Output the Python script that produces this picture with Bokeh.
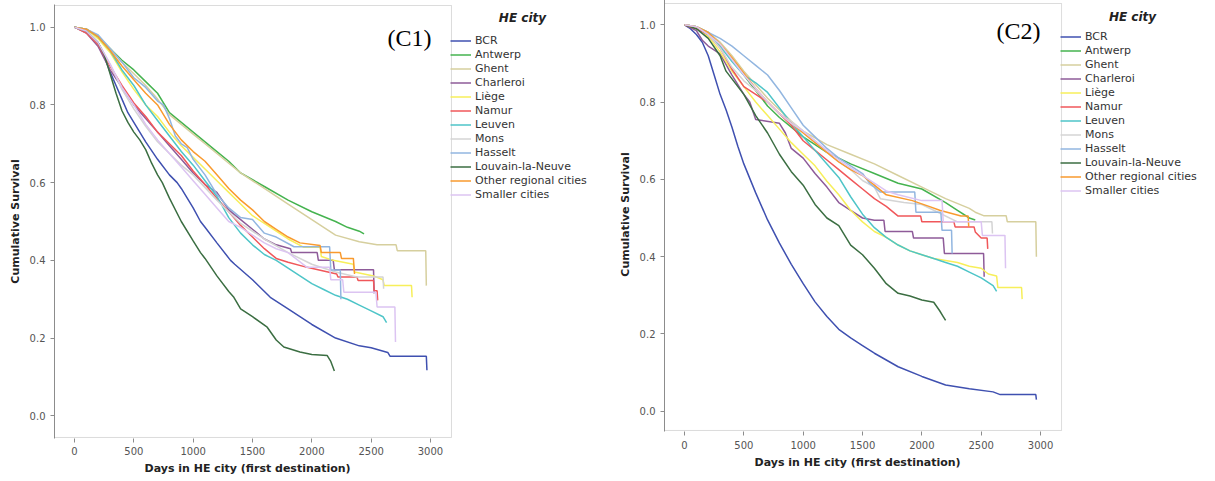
from bokeh.plotting import figure
from bokeh.models import (Legend, LegendItem, Label, FixedTicker, Title,
                          PrintfTickFormatter, Range1d, BoxAnnotation)
from bokeh.layouts import row
from bokeh.embed import file_html
from bokeh.resources import INLINE

cities = ["BCR", "Antwerp", "Ghent", "Charleroi", "Liège", "Namur", "Leuven",
          "Mons", "Hasselt", "Louvain-la-Neuve", "Other regional cities",
          "Smaller cities"]
colors = ["#3f50b0", "#45b34f", "#d6cf9e", "#8e5b99", "#f7ef5a", "#f0575a",
          "#4ec5c8", "#d4d4d4", "#92b6e0", "#3b6e42", "#f99a2e", "#dcc4f2"]
legend_title = "HE city"
x_label = "Days in HE city (first destination)"
y_label = "Cumulative Survival"

x_ticks = [0, 500, 1000, 1500, 2000, 2500, 3000]
y_ticks = [0.0, 0.2, 0.4, 0.6, 0.8, 1.0]

# ---------------- (C1) ----------------
c1_bcr_days = [0,100,200,250,300,350,400,450,500,600,700,800,865,900,1000,1062,1100,1200,1315,1350,1500,1650,1800,1900,2000,2200,2400,2500,2640,2660,2965,2970]
c1_bcr_surv = [1.0,0.99,0.96,0.925,0.885,0.85,0.815,0.78,0.755,0.705,0.66,0.62,0.60,0.585,0.535,0.50,0.485,0.445,0.40,0.39,0.35,0.305,0.275,0.255,0.235,0.20,0.18,0.175,0.163,0.153,0.153,0.117]
c1_ant_days = [0,100,200,300,400,500,600,700,800,900,1000,1100,1200,1300,1400,1600,1800,2000,2200,2300,2400,2440]
c1_ant_surv = [1.0,0.995,0.975,0.945,0.915,0.89,0.86,0.83,0.78,0.755,0.73,0.705,0.68,0.655,0.625,0.59,0.555,0.525,0.50,0.485,0.475,0.468]
c1_ghe_days = [0,100,200,300,400,500,600,700,800,900,1000,1100,1200,1300,1400,1600,1800,2000,2200,2400,2550,2710,2720,2960,2965]
c1_ghe_surv = [1.0,0.995,0.975,0.945,0.91,0.88,0.85,0.815,0.775,0.75,0.725,0.70,0.675,0.65,0.625,0.585,0.545,0.505,0.465,0.448,0.44,0.44,0.425,0.425,0.335]
c1_cha_days = [0,100,200,300,400,500,600,700,800,900,1000,1100,1200,1300,1400,1500,1600,1700,1820,1830,2045,2055,2180,2190,2520,2525]
c1_cha_surv = [1.0,0.985,0.95,0.89,0.845,0.80,0.765,0.73,0.695,0.66,0.625,0.595,0.575,0.53,0.505,0.48,0.455,0.44,0.43,0.42,0.42,0.40,0.40,0.376,0.376,0.315]
c1_lie_days = [0,100,200,300,400,500,600,700,800,900,1000,1100,1200,1300,1400,1500,1600,1700,1800,1930,2070,2080,2180,2350,2360,2520,2600,2610,2840,2845]
c1_lie_surv = [1.0,0.995,0.97,0.935,0.885,0.84,0.80,0.77,0.73,0.695,0.665,0.635,0.605,0.575,0.545,0.515,0.495,0.475,0.455,0.434,0.434,0.41,0.40,0.39,0.37,0.36,0.35,0.335,0.335,0.305]
c1_nam_days = [0,100,200,300,400,500,600,700,800,900,1000,1100,1200,1300,1400,1500,1600,1700,1800,1960,2210,2220,2380,2390,2520,2525,2550,2555]
c1_nam_surv = [1.0,0.985,0.955,0.90,0.85,0.805,0.77,0.73,0.70,0.67,0.63,0.595,0.56,0.525,0.49,0.46,0.43,0.405,0.395,0.382,0.365,0.357,0.357,0.348,0.348,0.322,0.322,0.297]
c1_leu_days = [0,100,200,300,400,500,600,700,800,900,1000,1100,1200,1300,1400,1500,1600,1700,1800,1900,2000,2100,2200,2300,2400,2500,2600,2630]
c1_leu_surv = [1.0,0.995,0.975,0.94,0.89,0.85,0.80,0.76,0.72,0.68,0.645,0.605,0.565,0.51,0.47,0.44,0.415,0.40,0.38,0.36,0.34,0.325,0.31,0.30,0.285,0.27,0.255,0.24]
c1_mon_days = [0,100,200,300,400,500,600,700,800,900,1000,1200,1400,1600,1800,2000,2200,2380,2600,2605]
c1_mon_surv = [1.0,0.99,0.96,0.905,0.84,0.79,0.745,0.705,0.675,0.645,0.62,0.555,0.495,0.455,0.42,0.39,0.37,0.357,0.357,0.327]
c1_has_days = [0,100,200,300,400,500,600,700,750,800,850,900,950,1000,1100,1200,1300,1400,1500,1600,1700,1850,2150,2160,2240,2245]
c1_has_surv = [1.0,0.995,0.98,0.945,0.91,0.87,0.845,0.81,0.80,0.765,0.72,0.70,0.69,0.66,0.62,0.57,0.535,0.51,0.505,0.47,0.46,0.435,0.435,0.375,0.375,0.30]
c1_lou_days = [0,100,200,250,300,350,400,450,500,550,600,650,700,740,800,900,1000,1062,1100,1200,1300,1343,1400,1500,1624,1700,1764,1900,2000,2130,2160,2190]
c1_lou_surv = [1.0,0.99,0.96,0.93,0.88,0.83,0.785,0.755,0.73,0.71,0.685,0.65,0.62,0.60,0.56,0.50,0.45,0.42,0.405,0.36,0.32,0.305,0.275,0.255,0.228,0.195,0.177,0.164,0.158,0.155,0.14,0.115]
c1_oth_days = [0,100,200,300,400,500,600,700,800,900,1000,1100,1200,1300,1400,1500,1600,1700,1800,1900,2070,2080,2240,2250,2350,2360]
c1_oth_surv = [1.0,0.995,0.975,0.94,0.90,0.865,0.83,0.80,0.75,0.71,0.68,0.655,0.62,0.585,0.555,0.53,0.50,0.48,0.46,0.445,0.438,0.42,0.42,0.405,0.405,0.365]
c1_sma_days = [0,100,200,300,400,500,600,700,800,900,1000,1100,1200,1300,1400,1500,1600,1700,1800,1960,2150,2160,2260,2270,2540,2550,2700,2705]
c1_sma_surv = [1.0,0.99,0.96,0.905,0.845,0.80,0.75,0.71,0.675,0.64,0.605,0.57,0.535,0.50,0.485,0.465,0.445,0.43,0.42,0.382,0.382,0.35,0.35,0.318,0.318,0.28,0.28,0.19]

# ---------------- (C2) ----------------
c2_bcr_days = [0,50,100,150,200,250,300,350,400,450,500,600,700,800,900,1000,1100,1200,1300,1400,1500,1600,1800,2000,2200,2400,2600,2660,2960,2965]
c2_bcr_surv = [1.0,0.99,0.975,0.955,0.92,0.87,0.82,0.78,0.735,0.685,0.64,0.565,0.495,0.435,0.38,0.33,0.283,0.245,0.212,0.19,0.17,0.15,0.115,0.09,0.068,0.058,0.05,0.043,0.043,0.03]
c2_ant_days = [0,100,200,300,400,500,600,700,800,900,1000,1200,1400,1600,1800,2000,2200,2300,2400,2450]
c2_ant_surv = [1.0,0.995,0.98,0.95,0.91,0.87,0.83,0.79,0.76,0.735,0.71,0.67,0.64,0.615,0.59,0.575,0.54,0.52,0.50,0.495]
c2_ghe_days = [0,100,200,300,400,500,600,700,800,900,1000,1200,1400,1600,1800,2000,2200,2400,2450,2520,2710,2720,2960,2965]
c2_ghe_surv = [1.0,0.995,0.98,0.955,0.92,0.88,0.845,0.81,0.78,0.75,0.725,0.69,0.665,0.64,0.61,0.58,0.55,0.525,0.515,0.506,0.506,0.49,0.49,0.40]
c2_cha_days = [0,100,150,200,300,400,500,550,600,800,850,900,1000,1100,1200,1300,1400,1500,1600,1680,1690,1920,1930,2180,2190,2520,2525]
c2_cha_surv = [1.0,0.985,0.96,0.945,0.925,0.87,0.82,0.80,0.755,0.745,0.72,0.68,0.655,0.615,0.58,0.54,0.52,0.50,0.494,0.494,0.465,0.465,0.448,0.448,0.408,0.408,0.348]
c2_lie_days = [0,100,200,300,400,500,600,700,800,900,1000,1100,1200,1300,1400,1500,1600,1700,1800,1900,2000,2100,2200,2300,2400,2500,2560,2630,2640,2840,2845]
c2_lie_surv = [1.0,0.995,0.97,0.93,0.88,0.84,0.80,0.765,0.73,0.695,0.665,0.635,0.595,0.56,0.52,0.49,0.465,0.45,0.43,0.415,0.405,0.395,0.39,0.385,0.375,0.37,0.355,0.35,0.32,0.32,0.29]
c2_nam_days = [0,100,200,300,400,500,600,700,800,900,1000,1100,1200,1300,1400,1500,1600,1700,1800,1990,2000,2270,2280,2440,2450,2500,2550,2555]
c2_nam_surv = [1.0,0.99,0.975,0.94,0.885,0.84,0.82,0.80,0.77,0.74,0.70,0.675,0.65,0.625,0.60,0.575,0.55,0.53,0.505,0.505,0.49,0.49,0.477,0.477,0.464,0.448,0.448,0.42]
c2_leu_days = [0,100,200,300,400,500,600,700,800,900,1000,1100,1200,1300,1400,1500,1600,1700,1800,1900,2000,2100,2200,2300,2400,2500,2600,2630]
c2_leu_surv = [1.0,0.995,0.975,0.945,0.905,0.87,0.85,0.825,0.785,0.745,0.71,0.675,0.64,0.605,0.555,0.51,0.475,0.45,0.43,0.415,0.405,0.395,0.385,0.375,0.36,0.345,0.325,0.31]
c2_mon_days = [0,100,200,300,400,500,600,700,800,900,1000,1100,1200,1300,1400,1500,1600,1650,1850,2000,2100,2300,2590,2595]
c2_mon_surv = [1.0,0.995,0.975,0.94,0.89,0.855,0.83,0.80,0.77,0.75,0.725,0.70,0.67,0.645,0.625,0.597,0.58,0.55,0.54,0.535,0.52,0.49,0.49,0.46]
c2_has_days = [0,100,200,300,400,500,600,700,800,900,1000,1100,1200,1300,1400,1500,1560,1650,1940,1950,2160,2170,2250,2255]
c2_has_surv = [1.0,0.995,0.98,0.965,0.945,0.92,0.895,0.87,0.83,0.785,0.74,0.71,0.68,0.655,0.635,0.615,0.59,0.567,0.567,0.515,0.515,0.468,0.468,0.408]
c2_lou_days = [0,100,200,300,350,400,500,600,700,800,900,1000,1100,1200,1300,1400,1500,1600,1700,1800,1900,2000,2100,2150,2180,2200]
c2_lou_surv = [1.0,0.99,0.965,0.92,0.88,0.86,0.82,0.765,0.72,0.665,0.62,0.585,0.535,0.50,0.48,0.43,0.405,0.37,0.33,0.305,0.298,0.288,0.282,0.26,0.245,0.235]
c2_oth_days = [0,100,200,300,400,500,600,700,800,900,1000,1100,1200,1300,1400,1500,1600,1700,1920,2060,2150,2330,2390,2395]
c2_oth_surv = [1.0,0.995,0.98,0.95,0.915,0.875,0.835,0.80,0.77,0.745,0.72,0.695,0.67,0.645,0.625,0.61,0.585,0.56,0.545,0.53,0.52,0.505,0.505,0.477]
c2_sma_days = [0,100,200,300,400,500,600,700,800,900,1000,1100,1200,1300,1400,1500,1600,1700,1800,2000,2170,2180,2500,2510,2700,2705]
c2_sma_surv = [1.0,0.995,0.975,0.95,0.91,0.87,0.835,0.80,0.77,0.745,0.725,0.70,0.675,0.65,0.63,0.61,0.59,0.57,0.56,0.545,0.545,0.49,0.49,0.455,0.455,0.37]

c1_series = [(c1_bcr_days, c1_bcr_surv), (c1_ant_days, c1_ant_surv), (c1_ghe_days, c1_ghe_surv),
             (c1_cha_days, c1_cha_surv), (c1_lie_days, c1_lie_surv), (c1_nam_days, c1_nam_surv),
             (c1_leu_days, c1_leu_surv), (c1_mon_days, c1_mon_surv), (c1_has_days, c1_has_surv),
             (c1_lou_days, c1_lou_surv), (c1_oth_days, c1_oth_surv), (c1_sma_days, c1_sma_surv)]
c2_series = [(c2_bcr_days, c2_bcr_surv), (c2_ant_days, c2_ant_surv), (c2_ghe_days, c2_ghe_surv),
             (c2_cha_days, c2_cha_surv), (c2_lie_days, c2_lie_surv), (c2_nam_days, c2_nam_surv),
             (c2_leu_days, c2_leu_surv), (c2_mon_days, c2_mon_surv), (c2_has_days, c2_has_surv),
             (c2_lou_days, c2_lou_surv), (c2_oth_days, c2_oth_surv), (c2_sma_days, c2_sma_surv)]

AX = "#8c8c8c"
FONT = "DejaVu Sans"
X_START, X_BOX_END = -168.5, 3177


def make_panel(series, tag, tag_x, tag_y, title_y, width, x_end, y_start, y_end,
               box_bottom, box_top, tick_standoff, title_standoff, leg_y):
    # both figures share the same frame geometry (row layouts align frames)
    p = figure(width=width, height=480,
               min_border_left=54, min_border_right=0,
               min_border_top=4, min_border_bottom=42,
               x_range=Range1d(X_START, x_end), y_range=Range1d(y_start, y_end),
               output_backend="svg", toolbar_location=None,
               background_fill_color="white", border_fill_color="white")
    p.grid.visible = False
    p.outline_line_color = None

    # plot-area box (the legend sits outside it, to the right)
    p.add_layout(BoxAnnotation(left=X_START, right=X_BOX_END, bottom=box_bottom,
                               top=box_top, fill_color=None, fill_alpha=0,
                               line_color=AX, line_width=1))

    p.xaxis.ticker = FixedTicker(ticks=x_ticks)
    p.yaxis.ticker = FixedTicker(ticks=y_ticks)
    p.yaxis.formatter = PrintfTickFormatter(format="%.1f")
    for ax in (p.xaxis, p.yaxis):
        ax.axis_line_color = AX
        ax.major_tick_line_color = AX
        ax.major_tick_out = 4
        ax.major_tick_in = 0
        ax.minor_tick_line_color = None
        ax.major_label_text_font = FONT
        ax.major_label_text_font_size = "10px"
        ax.major_label_text_color = "#555555"
        ax.axis_label_text_font = FONT
        ax.axis_label_text_font_size = "11px"
        ax.axis_label_text_font_style = "bold"
        ax.axis_label_text_color = "#222222"
    p.xaxis.axis_line_color = None
    p.xaxis.major_label_standoff = tick_standoff
    p.xaxis.axis_label_standoff = 0
    p.yaxis.major_label_standoff = 5
    p.yaxis.axis_label_standoff = 5
    p.yaxis.axis_label = y_label

    p.add_layout(Title(text=x_label, align="left", offset=90,
                       standoff=title_standoff, text_font=FONT,
                       text_font_size="11px", text_font_style="bold",
                       text_color="#222222"), "below")

    items = []
    for name, col, (d, s) in zip(cities, colors, series):
        r = p.line(d, s, line_color=col, line_width=1.5)
        items.append(LegendItem(label=name, renderers=[r]))

    leg = Legend(items=items, location=(396, leg_y), margin=0, padding=2,
                 border_line_color=None, background_fill_alpha=0,
                 glyph_width=21, glyph_height=13, label_height=13, spacing=1,
                 label_standoff=4, label_text_font=FONT,
                 label_text_font_size="11px", label_text_color="#333333")
    p.add_layout(leg, "center")

    p.add_layout(Label(x=3775, y=title_y, text=legend_title, text_font=FONT,
                       text_font_size="12px", text_font_style="bold italic",
                       text_align="center", text_baseline="middle",
                       text_color="#222222"))
    p.add_layout(Label(x=tag_x, y=tag_y, text=tag, text_font="Liberation Serif",
                       text_font_size="24px", text_align="left",
                       text_baseline="middle", text_color="black"))
    return p


p1 = make_panel(c1_series, "(C1)", 2638, 0.971, 1.0224, 610,
                4517, -0.0584, 1.0584, -0.0558, 1.0558, 4, 5, 237)
p2 = make_panel(c2_series, "(C2)", 2629, 0.985, 1.019, 600,
                4432, -0.05254, 1.07065, -0.04995, 1.0551, 5, 5, 234)
# the (C2) panel sits 7px higher than (C1) in the original figure
p2.styles = {"transform": "translateY(-7px)"}

layout = row(p1, p2, spacing=0)
open("out.html", "w").write(file_html(layout, INLINE))
